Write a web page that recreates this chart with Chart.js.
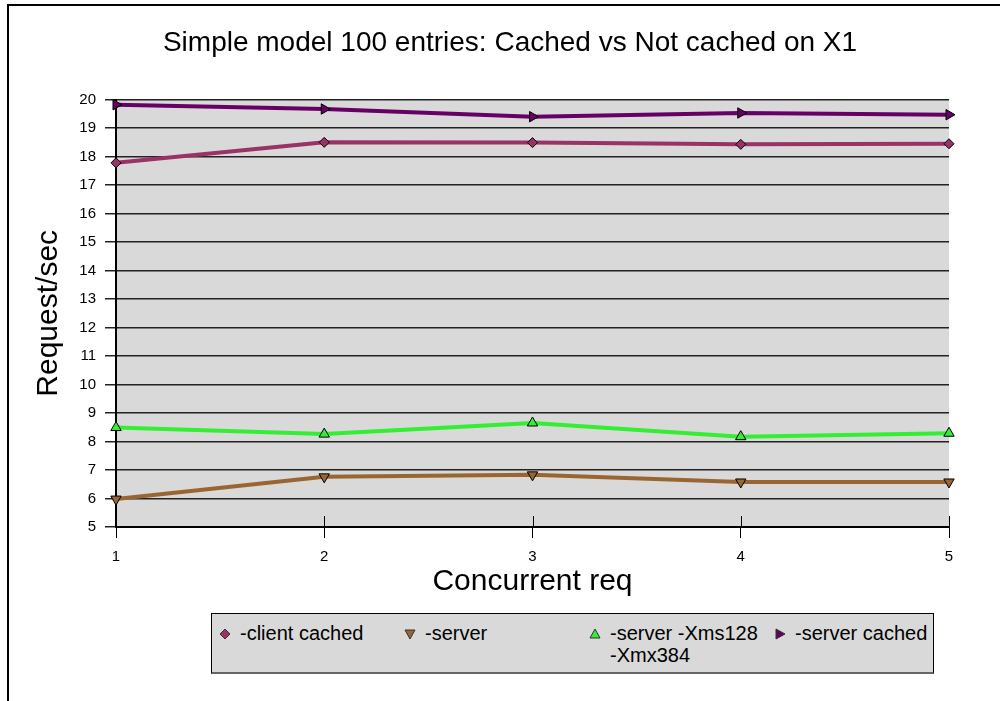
<!DOCTYPE html>
<html>
<head>
<meta charset="utf-8">
<script src="https://cdn.jsdelivr.net/npm/chart.js@4.4.1/dist/chart.umd.min.js"></script>
<style>
  html, body { margin: 0; padding: 0; background: #fff; }
  #wrap { position: relative; width: 1000px; height: 701px; overflow: hidden; }
  #legend {
    position: absolute; left: 211px; top: 613px; width: 721px; height: 58px;
    background: #d9d9d9; border: 1px solid #000; border-bottom: 2px solid #666;
    font-family: "Liberation Sans", Arial, sans-serif; font-size: 20px; color: #000;
  }
  .item { position: absolute; top: 8px; line-height: 22px; }
  .item svg { position: absolute; left: -21px; top: 6px; }
</style>
</head>
<body>
<div id="wrap">
  <canvas id="c" width="1000" height="701"></canvas>
  <div id="legend"></div>
</div>
<script>
const categories = [1, 2, 3, 4, 5];
const clientCached = [17.78, 18.50, 18.49, 18.43, 18.45];
const server = [5.98, 6.76, 6.83, 6.58, 6.58];
const serverXms = [8.49, 8.26, 8.65, 8.17, 8.29];
const serverCached = [19.82, 19.67, 19.40, 19.53, 19.47];
const seriesLabels = ['-client cached', '-server', '-server -Xms128 -Xmx384', '-server cached'];
const yTicks = [5, 6, 7, 8, 9, 10, 11, 12, 13, 14, 15, 16, 17, 18, 19, 20];

Chart.defaults.font.family = '"Liberation Sans", Arial, sans-serif';
Chart.defaults.color = '#000';

const toXY = arr => arr.map((v, i) => ({ x: categories[i], y: v }));

const plotBg = {
  id: 'plotBg',
  beforeDraw(chart) {
    const { ctx, chartArea: a } = chart;
    ctx.save();
    ctx.fillStyle = '#d9d9d9';
    ctx.fillRect(a.left, a.top, a.right - a.left, a.bottom - a.top);
    ctx.restore();
  }
};
const innerTicks = {
  id: 'innerTicks',
  beforeDatasetsDraw(chart) {
    const { ctx, chartArea: a } = chart;
    const xs = chart.scales.x;
    ctx.save();
    ctx.strokeStyle = '#000';
    ctx.lineWidth = 1;
    xs.ticks.forEach(t => {
      const px = Math.round(xs.getPixelForValue(t.value)) + 0.5;
      ctx.beginPath();
      ctx.moveTo(px, a.bottom - 11);
      ctx.lineTo(px, a.bottom);
      ctx.stroke();
    });
    ctx.restore();
  }
};
const frame = {
  id: 'frame',
  afterDraw(chart) {
    const { ctx } = chart;
    ctx.save();
    ctx.strokeStyle = '#000';
    ctx.lineWidth = 2;
    ctx.beginPath();
    ctx.moveTo(8, 701);
    ctx.lineTo(8, 5);
    ctx.lineTo(1000, 5);
    ctx.stroke();
    ctx.restore();
  }
};

const mk = (label, data, color, style, rot) => ({
  label, data: toXY(data),
  borderColor: color, backgroundColor: color,
  borderWidth: 4, tension: 0,
  pointStyle: style, pointRotation: rot,
  pointRadius: style === 'rectRot' ? 5 : 6,
  pointBackgroundColor: color, pointBorderColor: '#000', pointBorderWidth: 1,
  clip: false
});

new Chart(document.getElementById('c'), {
  type: 'line',
  data: {
    datasets: [
      mk(seriesLabels[0], clientCached, '#993366', 'rectRot', 0),
      mk(seriesLabels[1], server, '#996633', 'triangle', 180),
      mk(seriesLabels[2], serverXms, '#33ee33', 'triangle', 0),
      mk(seriesLabels[3], serverCached, '#660066', 'triangle', 90)
    ]
  },
  options: {
    responsive: false,
    animation: false,
    layout: { padding: { left: 20, right: 0, top: 0, bottom: 101 } },
    plugins: {
      legend: { display: false },
      tooltip: { enabled: false },
      title: {
        display: true,
        text: 'Simple model 100 entries: Cached vs Not cached on X1',
        font: { size: 28, weight: 'normal' },
        color: '#000',
        padding: { top: 26, bottom: 40 }
      }
    },
    scales: {
      x: {
        type: 'linear', min: 1, max: 5,
        afterFit: s => { s.height = 73; },
        ticks: { stepSize: 1, font: { size: 15 }, padding: 10, color: '#000' },
        grid: { drawOnChartArea: false, drawTicks: true, tickLength: 11, color: '#000' },
        border: { color: '#000', width: 2 },
        title: { display: true, text: 'Concurrent req', font: { size: 30 }, color: '#000', padding: { top: 0, bottom: 0 } }
      },
      y: {
        type: 'linear', min: 5, max: 20,
        afterFit: s => { s.width = 96; },
        afterBuildTicks: s => { s.ticks = yTicks.map(v => ({ value: v })); },
        ticks: { font: { size: 15 }, padding: 9, color: '#000' },
        grid: { color: '#222', lineWidth: 1.5, tickLength: 11 },
        border: { color: '#000', width: 2 },
        title: { display: true, text: 'Request/sec', font: { size: 30 }, color: '#000', padding: { top: 11, bottom: 0 } }
      },
      yR: {
        type: 'linear', position: 'right', min: 5, max: 20,
        afterFit: s => { s.width = 51; },
        ticks: { display: false },
        grid: { display: false },
        border: { display: false }
      }
    }
  },
  plugins: [plotBg, innerTicks, frame]
});

// HTML legend built from series labels
const legendDefs = [
  { left: 28, svg: '<svg width="12" height="12"><polygon points="6,1 11,6 6,11 1,6" fill="#993366" stroke="#333" stroke-width="1"/></svg>', text: '-client cached' },
  { left: 213, svg: '<svg width="12" height="12"><polygon points="1,2 11,2 6,11" fill="#996633" stroke="#333" stroke-width="1"/></svg>', text: '-server' },
  { left: 398, svg: '<svg width="12" height="12"><polygon points="1,10 11,10 6,1" fill="#33ee33" stroke="#333" stroke-width="1"/></svg>', text: '-server -Xms128<br>-Xmx384' },
  { left: 583, svg: '<svg width="12" height="12"><polygon points="2,1 11,6 2,11" fill="#660066" stroke="#333" stroke-width="1"/></svg>', text: '-server cached' }
];
const lg = document.getElementById('legend');
legendDefs.forEach(d => {
  const el = document.createElement('div');
  el.className = 'item';
  el.style.left = d.left + 'px';
  el.innerHTML = d.svg + '<span>' + d.text + '</span>';
  lg.appendChild(el);
});
</script>
</body>
</html>
